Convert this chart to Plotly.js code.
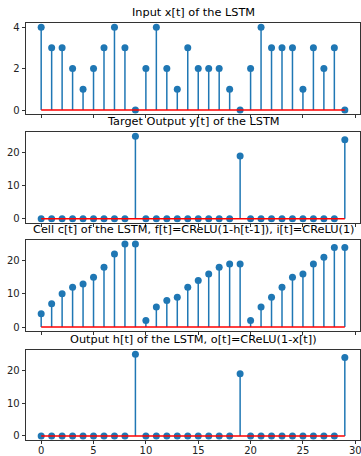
<!DOCTYPE html>
<html><head><meta charset="utf-8">
<script src="https://cdn.plot.ly/plotly-3.0.1.min.js"></script>
<style>html,body{margin:0;padding:0;background:#fff;}#chart{width:361px;height:456px;}</style>
</head><body><div id="chart"></div>
<script>
const t = Array.from({length: 30}, (_, i) => i);
const inputX = [4,3,3,2,1,2,3,4,3,0,2,4,2,1,3,2,2,2,1,0,2,4,3,3,3,1,3,2,3,0];
const targetY = [0,0,0,0,0,0,0,0,0,25,0,0,0,0,0,0,0,0,0,19,0,0,0,0,0,0,0,0,0,24];
const cellC = [4,7,10,12,13,15,18,22,25,25,2,6,8,9,12,14,16,18,19,19,2,6,9,12,15,16,19,21,24,24];
const outputH = [0,0,0,0,0,0,0,0,0,25,0,0,0,0,0,0,0,0,0,19,0,0,0,0,0,0,0,0,0,24];
const titles = ["Input x[t] of the LSTM", "Target Output y[t] of the LSTM",
  "Cell c[t] of the LSTM, f[t]=CReLU(1-h[t-1]), i[t]=CReLU(1)",
  "Output h[t] of the LSTM, o[t]=CReLU(1-x[t])"];
const series = [inputX, targetY, cellC, outputH];
const yTicks = [[0,2,4],[0,10,20],[0,10,20],[0,10,20]];
const xTicks = [0,5,10,15,20,25,30];

const blue = '#1f77b4';
const domains = [[0.7814,1],[0.521,0.738],[0.261,0.4798],[0,0.2157]];
const traces = [];
const layout = {
  width: 361, height: 456,
  margin: {l: 26, r: 1, t: 23, b: 16},
  paper_bgcolor: '#fff', plot_bgcolor: '#fff',
  showlegend: false,
  font: {family: 'DejaVu Sans', size: 10, color: '#000'},
  annotations: []
};
series.forEach((vals, k) => {
  const ax = k === 0 ? '' : String(k + 1);
  const sx = [], sy = [];
  t.forEach((ti, i) => { sx.push(ti, ti, null); sy.push(0, vals[i], null); });
  traces.push({x: sx, y: sy, xaxis: 'x' + ax, yaxis: 'y' + ax, mode: 'lines',
    line: {color: blue, width: 1.5}, hoverinfo: 'skip'});
  traces.push({x: t, y: vals, xaxis: 'x' + ax, yaxis: 'y' + ax, mode: 'markers',
    marker: {color: blue, size: 7}});
  traces.push({x: [t[0], t[t.length - 1]], y: [0, 0], xaxis: 'x' + ax, yaxis: 'y' + ax,
    mode: 'lines', line: {color: '#ff0000', width: 1.5}});
  const maxV = Math.max(...vals), minV = Math.min(0, ...vals);
  const pad = (maxV - minV) * 0.05;
  layout['xaxis' + ax] = {
    domain: [0, 1], anchor: 'y' + ax, range: [-1.45, 30.45],
    tickvals: xTicks, ticktext: xTicks.map(String), showticklabels: k === 3,
    ticks: 'outside', ticklen: 3, tickwidth: 0.8, tickcolor: '#000',
    ticklabeloverflow: 'allow', ticklabelstandoff: -2,
    showline: true, mirror: true, linecolor: '#000', linewidth: 0.8,
    showgrid: false, zeroline: false, tickfont: {size: 10, color: '#222'}
  };
  layout['yaxis' + ax] = {
    domain: domains[k], anchor: 'x' + ax, range: [minV - pad, maxV + pad],
    tickvals: yTicks[k], ticks: 'outside', ticklen: 3.5, tickwidth: 0.8, tickcolor: '#000',
    showline: true, mirror: true, linecolor: '#000', linewidth: 0.8,
    showgrid: false, zeroline: false, tickfont: {size: 10, color: '#222'}
  };
  layout.annotations.push({text: titles[k], xref: 'x' + ax + ' domain', yref: 'y' + ax + ' domain',
    x: 0.5, y: 1, yshift: 2, xanchor: 'center', yanchor: 'bottom', showarrow: false,
    font: {size: 11.3, color: '#000', family: 'DejaVu Sans'}});
});
Plotly.newPlot('chart', traces, layout, {displayModeBar: false, staticPlot: true});
</script></body></html>
